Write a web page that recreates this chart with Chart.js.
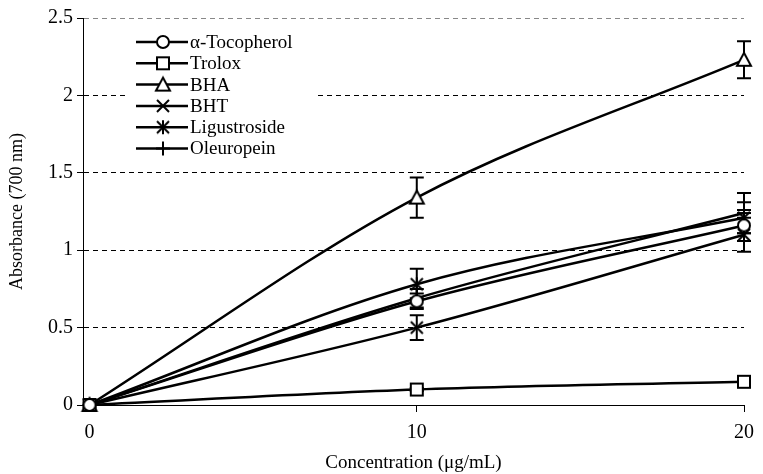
<!DOCTYPE html>
<html>
<head>
<meta charset="utf-8">
<script src="https://cdn.jsdelivr.net/npm/chart.js@4.4.1/dist/chart.umd.min.js"></script>
<style>
  html, body { margin: 0; padding: 0; background: #fff; }
</style>
</head>
<body>
<canvas id="chart" width="763" height="474"></canvas>
<script>
const concentrations = [0, 10, 20];
const xTicks = [0, 10, 20];
const yTicks = [0, 0.5, 1, 1.5, 2, 2.5];

const seriesNames = ["α-Tocopherol", "Trolox", "BHA", "BHT", "Ligustroside", "Oleuropein"];
const markerKinds = ["circle", "square", "triangle", "cross", "asterisk", "plus"];

const tocopherol = [0, 0.67, 1.16];
const trolox = [0, 0.10, 0.15];
const bha = [0, 1.34, 2.23];
const bht = [0, 0.50, 1.10];
const ligustroside = [0, 0.78, 1.21];
const oleuropein = [0, 0.69, 1.24];

const tocopherolErr = [0, 0.05, 0.10];
const troloxErr = [0, 0.01, 0.01];
const bhaErr = [0, 0.13, 0.12];
const bhtErr = [0, 0.08, 0.11];
const ligustrosideErr = [0, 0.10, 0.10];
const oleuropeinErr = [0, 0.06, 0.13];

const seriesValues = [tocopherol, trolox, bha, bht, ligustroside, oleuropein];
const seriesErrors = [tocopherolErr, troloxErr, bhaErr, bhtErr, ligustrosideErr, oleuropeinErr];

const serif = "'Liberation Serif', 'Times New Roman', serif";

function makeMarker(kind) {
    const c = document.createElement("canvas");
    c.width = 20;
    c.height = 20;
    const g = c.getContext("2d");
    g.translate(10, 10);
    g.lineWidth = 2;
    g.strokeStyle = "#000";
    g.fillStyle = "#fff";
    g.beginPath();
    if (kind === "circle") {
        g.arc(0, 0, 6, 0, Math.PI * 2);
        g.fill();
        g.stroke();
    } else if (kind === "square") {
        g.rect(-6, -6, 12, 12);
        g.fill();
        g.stroke();
    } else if (kind === "triangle") {
        g.moveTo(0, -7);
        g.lineTo(7, 6);
        g.lineTo(-7, 6);
        g.closePath();
        g.fill();
        g.stroke();
    } else if (kind === "cross") {
        g.moveTo(-6, -6); g.lineTo(6, 6);
        g.moveTo(6, -6); g.lineTo(-6, 6);
        g.stroke();
    } else if (kind === "asterisk") {
        g.moveTo(-6, -6); g.lineTo(6, 6);
        g.moveTo(6, -6); g.lineTo(-6, 6);
        g.moveTo(0, -7); g.lineTo(0, 7);
        g.stroke();
    } else {
        g.moveTo(-7, 0); g.lineTo(7, 0);
        g.moveTo(0, -7); g.lineTo(0, 7);
        g.stroke();
    }
    return c;
}

const markers = markerKinds.map(makeMarker);

// error bars drawn under the markers
const errorBars = {
    id: "errorBars",
    beforeDatasetsDraw(chart) {
        const { ctx, scales: { x, y } } = chart;
        ctx.save();
        ctx.strokeStyle = "#000";
        ctx.lineWidth = 2;
        seriesValues.forEach((vals, i) => {
            vals.forEach((v, j) => {
                const e = seriesErrors[i][j];
                if (!e) return;
                const px = x.getPixelForValue(concentrations[j]);
                const top = y.getPixelForValue(v + e);
                const bot = y.getPixelForValue(v - e);
                ctx.beginPath();
                ctx.moveTo(px, top); ctx.lineTo(px, bot);
                ctx.moveTo(px - 7, top); ctx.lineTo(px + 7, top);
                ctx.moveTo(px - 7, bot); ctx.lineTo(px + 7, bot);
                ctx.stroke();
            });
        });
        ctx.restore();
    }
};

// legend in a white box, line through the marker
const boxLegend = {
    id: "boxLegend",
    afterDraw(chart) {
        const ctx = chart.ctx;
        ctx.save();
        ctx.fillStyle = "#fff";
        ctx.fillRect(127, 30, 190, 130);
        ctx.font = "19px " + serif;
        ctx.textBaseline = "middle";
        ctx.fillStyle = "#000";
        seriesNames.forEach((name, i) => {
            const cy = 42 + i * 21.3;
            ctx.strokeStyle = "#000";
            ctx.lineWidth = 2.5;
            ctx.beginPath();
            ctx.moveTo(136, cy);
            ctx.lineTo(188, cy);
            ctx.stroke();
            ctx.drawImage(markers[i], 163 - 10, cy - 10);
            ctx.fillText(name, 190, cy + 1);
        });
        ctx.restore();
    }
};

new Chart(document.getElementById("chart"), {
    type: "line",
    data: {
        datasets: seriesNames.map((name, i) => ({
            label: name,
            data: concentrations.map((c, j) => ({ x: c, y: seriesValues[i][j] })),
            borderColor: "#000",
            borderWidth: 2.5,
            pointStyle: markers[i],
            pointRadius: 7,
            cubicInterpolationMode: "monotone",
            clip: false,
            fill: false
        }))
    },
    options: {
        responsive: false,
        devicePixelRatio: 1,
        animation: false,
        layout: { padding: { top: 18, right: 13, bottom: 0, left: 0 } },
        plugins: {
            legend: { display: false },
            tooltip: { enabled: false }
        },
        scales: {
            x: {
                type: "linear",
                min: -0.2,
                max: 20,
                afterBuildTicks: s => { s.ticks = xTicks.map(v => ({ value: v })); },
                afterFit: s => { s.height = 69; },
                grid: { drawOnChartArea: false, tickLength: 7, color: "#000" },
                border: { color: "#000", width: 1 },
                ticks: { color: "#000", font: { family: serif, size: 20 }, padding: 9, maxRotation: 0 },
                title: {
                    display: true,
                    text: "Concentration (μg/mL)",
                    color: "#000",
                    font: { family: serif, size: 19 },
                    padding: { top: 0, bottom: 0 }
                }
            },
            y: {
                min: 0,
                max: 2.5,
                afterBuildTicks: s => { s.ticks = yTicks.map(v => ({ value: v })); },
                afterFit: s => { s.width = 83; },
                grid: {
                    color: c => c.tick.value === 0 ? "rgba(0,0,0,0)" : (c.tick.value === 2.5 ? "#888" : "#000"),
                    tickColor: "#000",
                    tickLength: 6,
                    tickBorderDash: [],
                    lineWidth: 1
                },
                border: { color: "#000", width: 1, dash: [5, 4] },
                ticks: {
                    color: "#000",
                    font: { family: serif, size: 20 },
                    padding: 4,
                    callback: v => String(v)
                },
                title: {
                    display: true,
                    text: "Absorbance (700 nm)",
                    color: "#000",
                    font: { family: serif, size: 18 },
                    padding: { top: 6, bottom: 0 }
                }
            }
        }
    },
    plugins: [errorBars, boxLegend]
});
</script>
</body>
</html>
